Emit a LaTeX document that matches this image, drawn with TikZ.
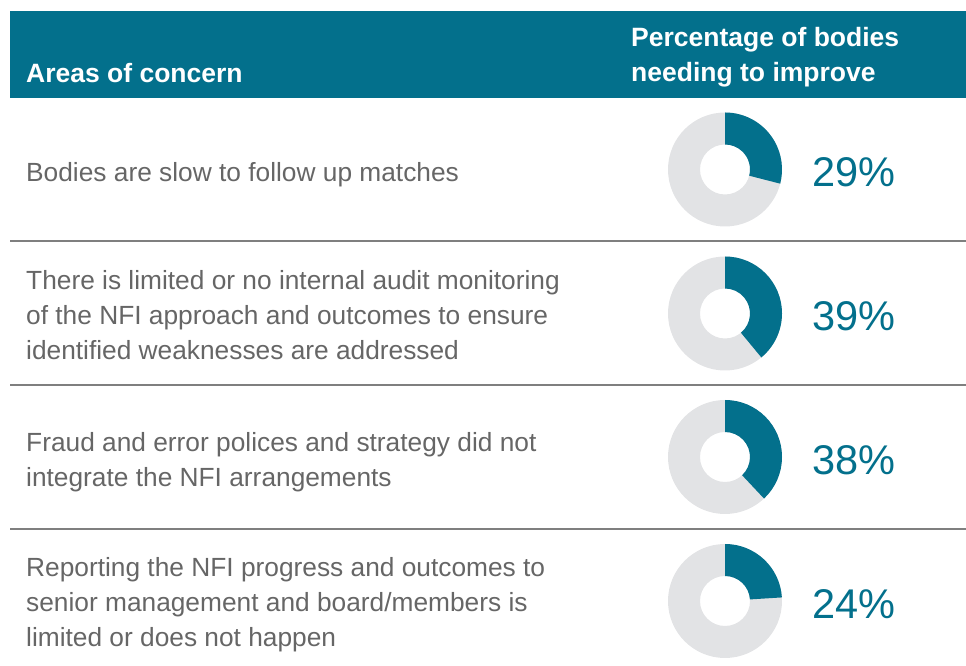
\documentclass[tikz,border=0pt]{standalone}
\usepackage{fontspec}
\setmainfont{Liberation Sans}
\definecolor{nfiteal}{HTML}{03708C}
\definecolor{donutgray}{HTML}{E2E3E5}
\definecolor{bodygray}{HTML}{666666}
\definecolor{sepgray}{HTML}{7F7F7F}
\newcommand\nfidonut[3]{%
  \begin{scope}[shift={(#1,#2)}]
    \fill[donutgray, even odd rule] (0,0) circle[radius=57] (0,0) circle[radius=25];
    \fill[nfiteal] (90:57) arc[start angle=90, delta angle={-#3*3.6}, radius=57]
      -- ({90-#3*3.6}:25) arc[start angle={90-#3*3.6}, delta angle={#3*3.6}, radius=25] -- cycle;
  \end{scope}}
\begin{document}
\begin{tikzpicture}[x=1pt,y=1pt,
  body/.style={anchor=base west, align=left, text=bodygray, font=\fontsize{26.3}{35}\selectfont, inner sep=0pt},
  head/.style={anchor=base west, align=left, text=white, font=\fontsize{26.5}{35}\selectfont\bfseries, inner sep=0pt},
  pct/.style={anchor=base west, text=nfiteal, font=\fontsize{41.5}{45}\selectfont, inner sep=0pt},
  sep/.style={draw=sepgray, line width=1.5pt}]
\useasboundingbox (0,0) rectangle (966,666);
% header
\fill[nfiteal] (10,568) rectangle (966,655);
\node[head] (hA) at (26,583) {Areas of concern};
\node[head] (hP) at (631,584) {Percentage of bodies\\needing to improve};
% separators
\draw[sep] (10,425) -- (966,425);
\draw[sep] (10,281) -- (966,281);
\draw[sep] (10,137) -- (966,137);
% row 1
\node[body] (t1) at (26,484) {Bodies are slow to follow up matches};
\nfidonut{725}{496.5}{29}
\node[pct] (p1) at (812,479) {29\%};
% row 2
\node[body] (t2) at (26,306) {There is limited or no internal audit monitoring\\of the NFI approach and outcomes to ensure\\identified weaknesses are addressed};
\nfidonut{725}{352.5}{39}
\node[pct] (p2) at (812,335) {39\%};
% row 3
\node[body] (t3) at (26,179.5) {Fraud and error polices and strategy did not\\integrate the NFI arrangements};
\nfidonut{725}{209}{38}
\node[pct] (p3) at (812,191.5) {38\%};
% row 4
\node[body] (t4) at (26,19.5) {Reporting the NFI progress and outcomes to\\senior management and board/members is\\limited or does not happen};
\nfidonut{725}{65}{24}
\node[pct] (p4) at (812,47.5) {24\%};
\end{tikzpicture}
\end{document}
